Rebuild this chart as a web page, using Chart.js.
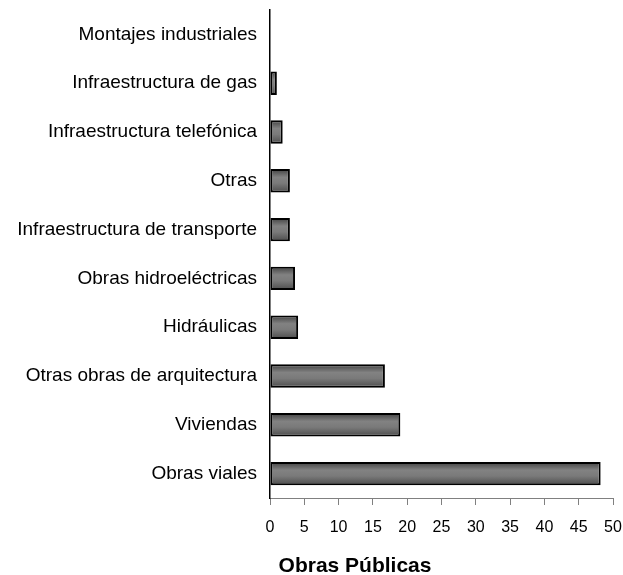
<!DOCTYPE html>
<html>
<head>
<meta charset="utf-8">
<script src="https://cdn.jsdelivr.net/npm/chart.js@4"></script>
<style>
  html, body { margin: 0; padding: 0; background: #fff; }
  #grafico { display: block; }
</style>
</head>
<body>
<canvas id="grafico" width="623" height="575"></canvas>
<script>
// Datos
const categorias = [
    "Montajes industriales",
    "Infraestructura de gas",
    "Infraestructura telefónica",
    "Otras",
    "Infraestructura de transporte",
    "Obras hidroeléctricas",
    "Hidráulicas",
    "Otras obras de arquitectura",
    "Viviendas",
    "Obras viales"
];
const valores = [0, 1.0, 1.85, 2.9, 2.9, 3.65, 4.1, 16.75, 19.0, 48.2];
const ejeX = { min: 0, max: 50, paso: 5 };
const tituloEje = "Obras Públicas";

const FUENTE = "'Liberation Sans', Arial, sans-serif";
const ANCHO_BARRA = 0.48;

// degradado gris tipo "tubo" para cada barra
function rellenoBarra(c) {
    const chart = c.chart;
    const ys = chart.scales.y;
    if (!ys || c.type !== "data") return "#707070";
    const cy = ys.getPixelForValue(c.dataIndex);
    const half = ys.height / categorias.length * ANCHO_BARRA / 2;
    if (!isFinite(cy) || !isFinite(half) || half <= 0) return "#707070";
    const g = chart.ctx.createLinearGradient(0, cy - half, 0, cy + half);
    g.addColorStop(0, "#404040");
    g.addColorStop(0.35, "#828282");
    g.addColorStop(0.6, "#7a7a7a");
    g.addColorStop(1, "#4c4c4c");
    return g;
}

// título del eje x (centrado como en el original)
const tituloAbajo = {
    id: "tituloAbajo",
    afterDraw(chart) {
        const ctx = chart.ctx;
        ctx.save();
        ctx.font = "bold 21px " + FUENTE;
        ctx.fillStyle = "#000";
        ctx.textAlign = "center";
        ctx.textBaseline = "middle";
        ctx.fillText(tituloEje, 355, 566);
        ctx.restore();
    }
};

new Chart(document.getElementById("grafico").getContext("2d"), {
    type: "bar",
    data: {
        labels: categorias,
        datasets: [{
            data: valores,
            backgroundColor: rellenoBarra,
            borderColor: "#000000",
            borderWidth: (c) => (c.raw === 0 ? 0 : 2),
            borderSkipped: false,
            barPercentage: ANCHO_BARRA,
            categoryPercentage: 1
        }]
    },
    options: {
        indexAxis: "y",
        responsive: false,
        animation: false,
        layout: { padding: { top: 10, right: 10, bottom: 0, left: 0 } },
        plugins: {
            legend: { display: false },
            tooltip: { enabled: false }
        },
        scales: {
            x: {
                min: ejeX.min,
                max: ejeX.max,
                afterFit(scale) {
                    scale.height = 77;
                    scale.paddingLeft = 0;
                    scale.paddingRight = 0;
                },
                ticks: {
                    stepSize: ejeX.paso,
                    color: "#000",
                    padding: 13,
                    maxRotation: 0,
                    font: { family: FUENTE, size: 16 }
                },
                grid: {
                    drawOnChartArea: false,
                    drawTicks: true,
                    tickLength: 7,
                    color: "#808080"
                },
                border: { color: "#808080", width: 1 }
            },
            y: {
                afterFit(scale) {
                    scale.width = 270;
                    scale.paddingTop = 0;
                    scale.paddingBottom = 0;
                },
                ticks: {
                    color: "#000",
                    padding: 13,
                    font: { family: FUENTE, size: 19 }
                },
                grid: { drawOnChartArea: false, drawTicks: false },
                border: { color: "#000000", width: 1.5 }
            }
        }
    },
    plugins: [tituloAbajo]
});
</script>
</body>
</html>
